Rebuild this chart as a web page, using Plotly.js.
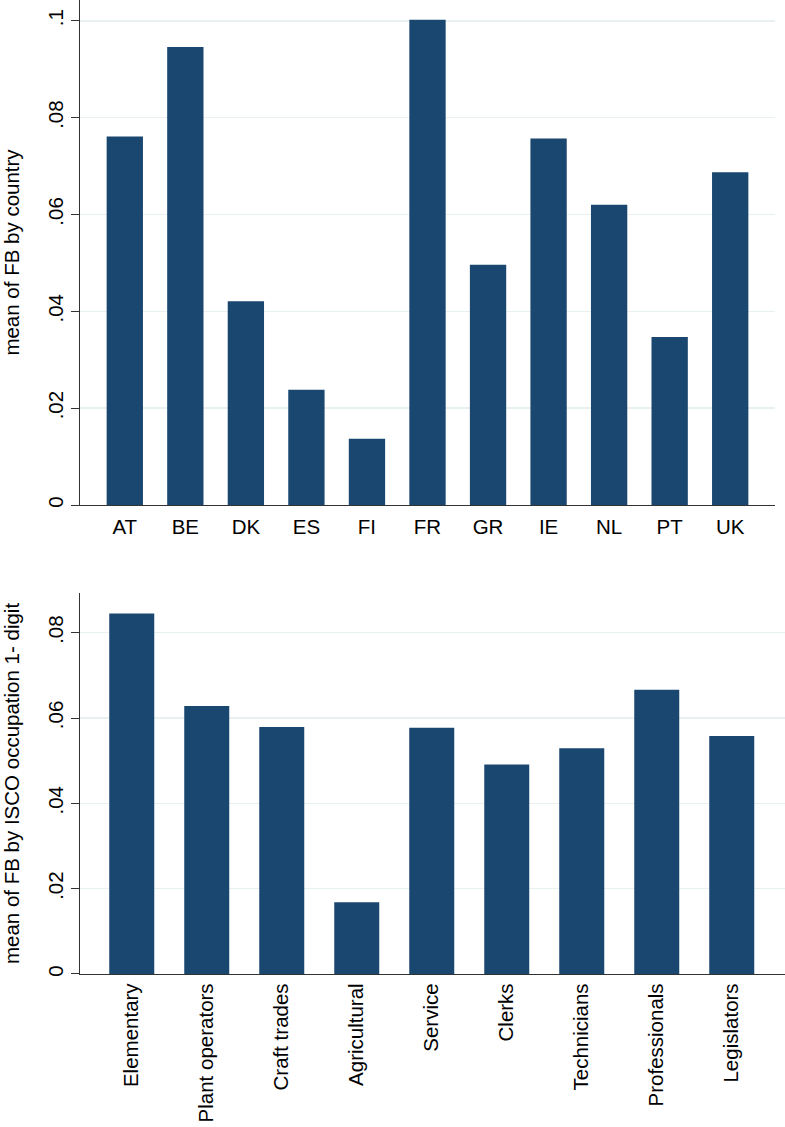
<!DOCTYPE html>
<html>
<head>
<meta charset="utf-8">
<script src="https://cdn.plot.ly/plotly-3.0.1.min.js"></script>
<style>html,body{margin:0;padding:0;background:#fff;}#chart{width:785px;height:1127px;}</style>
</head>
<body>
<div id="chart"></div>
<script>
const countries = ["AT","BE","DK","ES","FI","FR","GR","IE","NL","PT","UK"];
const countryMeans = [0.0761,0.0946,0.0421,0.0238,0.0137,0.1002,0.0496,0.0757,0.0620,0.0347,0.0687];
const occupations = ["Elementary","Plant operators","Craft trades","Agricultural","Service","Clerks","Technicians","Professionals","Legislators"];
const occupationMeans = [0.0845,0.0628,0.0579,0.0168,0.0577,0.0491,0.0529,0.0666,0.0558];
const tickVals1 = [0,0.02,0.04,0.06,0.08,0.1];
const tickText1 = ["0",".02",".04",".06",".08",".1"];
const tickVals2 = [0,0.02,0.04,0.06,0.08];
const tickText2 = ["0",".02",".04",".06",".08"];

const barColor = "#1a476f";
const fontFam = "Liberation Sans, Arial, sans-serif";
const fs = 20.5;

const traces = [
  {type:"bar", x:countries, y:countryMeans, xaxis:"x", yaxis:"y", width:0.6,
   marker:{color:barColor, line:{width:0}}, hoverinfo:"none"},
  {type:"bar", x:occupations, y:occupationMeans, xaxis:"x2", yaxis:"y2", width:0.6,
   marker:{color:barColor, line:{width:0}}, hoverinfo:"none"}
];

const yBase = {
  tickangle:-90, ticks:"outside", ticklen:8, tickcolor:"#333", tickwidth:1,
  showline:true, linecolor:"#333", linewidth:1.2, zeroline:false,
  showgrid:true, gridcolor:"#e8f0f2", gridwidth:1.4,
  tickfont:{family:fontFam, size:fs, color:"#000"},
  ticklabelstandoff:0
};

const layout = {
  width:785, height:1127,
  margin:{l:80, r:0, t:0, b:0},
  paper_bgcolor:"#fff", plot_bgcolor:"#fff",
  showlegend:false,
  font:{family:fontFam, size:fs, color:"#000"},
  xaxis:{domain:[0,0.98582], anchor:"y", type:"category", range:[-0.74,10.74],
    showline:true, linecolor:"#333", linewidth:1.2, ticks:"", showgrid:false,
    ticklabelstandoff:3,
    tickfont:{family:fontFam, size:fs, color:"#000"}, fixedrange:true},
  yaxis:Object.assign({}, yBase, {domain:[0.5519,1], anchor:"x", range:[0,0.1043],
    tickvals:tickVals1, ticktext:tickText1,
    title:{text:"mean of FB by country", font:{family:fontFam, size:fs, color:"#000"}, standoff:20}}),
  xaxis2:{domain:[0,1], anchor:"y2", type:"category", range:[-0.69,8.71],
    showline:true, linecolor:"#333", linewidth:1.2, ticks:"", showgrid:false, tickangle:-90,
    tickfont:{family:fontFam, size:fs, color:"#000"}, fixedrange:true},
  yaxis2:Object.assign({}, yBase, {domain:[0.13576,0.47382], anchor:"x2", range:[0,0.0893],
    tickvals:tickVals2, ticktext:tickText2,
    title:{text:"mean of FB by ISCO occupation 1- digit", font:{family:fontFam, size:fs, color:"#000"}, standoff:20}})
};

Plotly.newPlot("chart", traces, layout, {staticPlot:true, displayModeBar:false});
</script>
</body>
</html>
